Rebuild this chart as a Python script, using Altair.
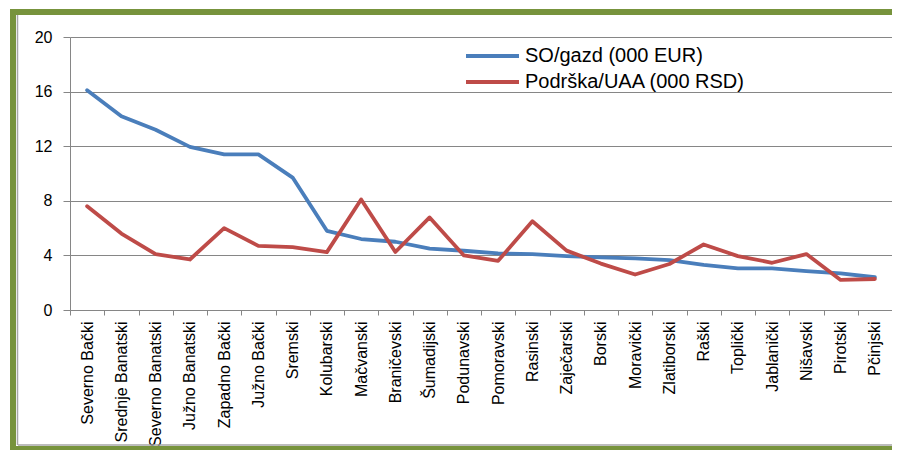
import altair as alt
import pandas as pd

regions = ["Severno Bački", "Srednje Banatski", "Severno Banatski", "Južno Banatski",
           "Zapadno Bački", "Južno Bački", "Sremski", "Kolubarski", "Mačvanski",
           "Braničevski", "Šumadijski", "Podunavski", "Pomoravski", "Rasinski",
           "Zaječarski", "Borski", "Moravički", "Zlatiborski", "Raški", "Toplički",
           "Jablanički", "Nišavski", "Pirotski", "Pčinjski"]
so_gazd = [16.1, 14.2, 13.2, 11.95, 11.4, 11.4, 9.7, 5.8, 5.2, 5.0, 4.5, 4.34,
           4.15, 4.1, 3.95, 3.85, 3.78, 3.66, 3.3, 3.05, 3.05, 2.85, 2.68, 2.4]
podrska = [7.6, 5.6, 4.1, 3.7, 6.0, 4.7, 4.6, 4.24, 8.1, 4.25, 6.78, 4.0, 3.6,
           6.5, 4.35, 3.4, 2.6, 3.37, 4.8, 3.95, 3.46, 4.1, 2.2, 2.27]
series_names = ["SO/gazd (000 EUR)", "Podrška/UAA (000 RSD)"]
series_colors = ["#4A7EBB", "#BE4B48"]
y_ticks = [0, 4, 8, 12, 16, 20]

rows = []
for i, r in enumerate(regions):
    rows.append({"region": r, "series": series_names[0], "value": so_gazd[i], "order": i})
    rows.append({"region": r, "series": series_names[1], "value": podrska[i], "order": i})
df = pd.DataFrame(rows)

W, H = 822, 273
FONT = "Liberation Sans"
GRAY = "#868686"
GREEN = "#77933C"

lines = alt.Chart(df).mark_line(strokeWidth=3.8, strokeJoin="round", strokeCap="round").encode(
    x=alt.X("region:N", sort=regions,
            scale=alt.Scale(type="band", paddingInner=0, paddingOuter=0),
            axis=alt.Axis(title=None, labelAngle=270, tickBand="extent", tickSize=5,
                          tickColor=GRAY, domainColor=GRAY, labelPadding=6,
                          labelFontSize=16, labelFont=FONT, labelColor="#000000",
                          grid=False)),
    y=alt.Y("value:Q", scale=alt.Scale(domain=[0, 20], nice=False, zero=True),
            axis=alt.Axis(title=None, values=y_ticks, grid=True, gridColor=GRAY,
                          domainColor=GRAY, tickColor=GRAY, tickSize=7,
                          labelPadding=11, labelFontSize=16, labelFont=FONT,
                          labelColor="#000000")),
    color=alt.Color("series:N", sort=series_names,
                    scale=alt.Scale(domain=series_names, range=series_colors),
                    legend=alt.Legend(title=None, orient="none", legendX=410.5, legendY=7,
                                      symbolType="M-2.65,0H2.65", symbolSize=400,
                                      symbolStrokeWidth=3.8, symbolFillColor="transparent",
                                      labelFontSize=20,
                                      labelFont=FONT, labelColor="#000000",
                                      labelLimit=0, labelOffset=20.5, rowPadding=4)),
    order="order:Q",
)

one = pd.DataFrame({"k": [0]})

def rule(x, x2, y, y2, color, width):
    return alt.Chart(one).mark_rule(color=color, strokeWidth=width).encode(
        x=alt.value(x), x2=alt.value(x2), y=alt.value(y), y2=alt.value(y2))

frame = [
    rule(-57, -57, -28, 413, GREEN, 6),
    rule(-60, 822, -25, -25, GREEN, 6),
    rule(-52.5, -52.5, -22, 408, "#A6A6A6", 1.5),
    rule(-52, 822, 408, 408, "#A6A6A6", 1.5),
    rule(-54, 822, 411, 411, GREEN, 4),
]

chart = alt.layer(*frame, lines).properties(
    width=W, height=H,
    autosize=alt.AutoSizeParams(type="none"),
    padding={"left": 62, "top": 29, "right": 0, "bottom": 148},
).configure_view(strokeWidth=0)

chart.save("out.html", embed_options={"renderer": "svg", "actions": False})
